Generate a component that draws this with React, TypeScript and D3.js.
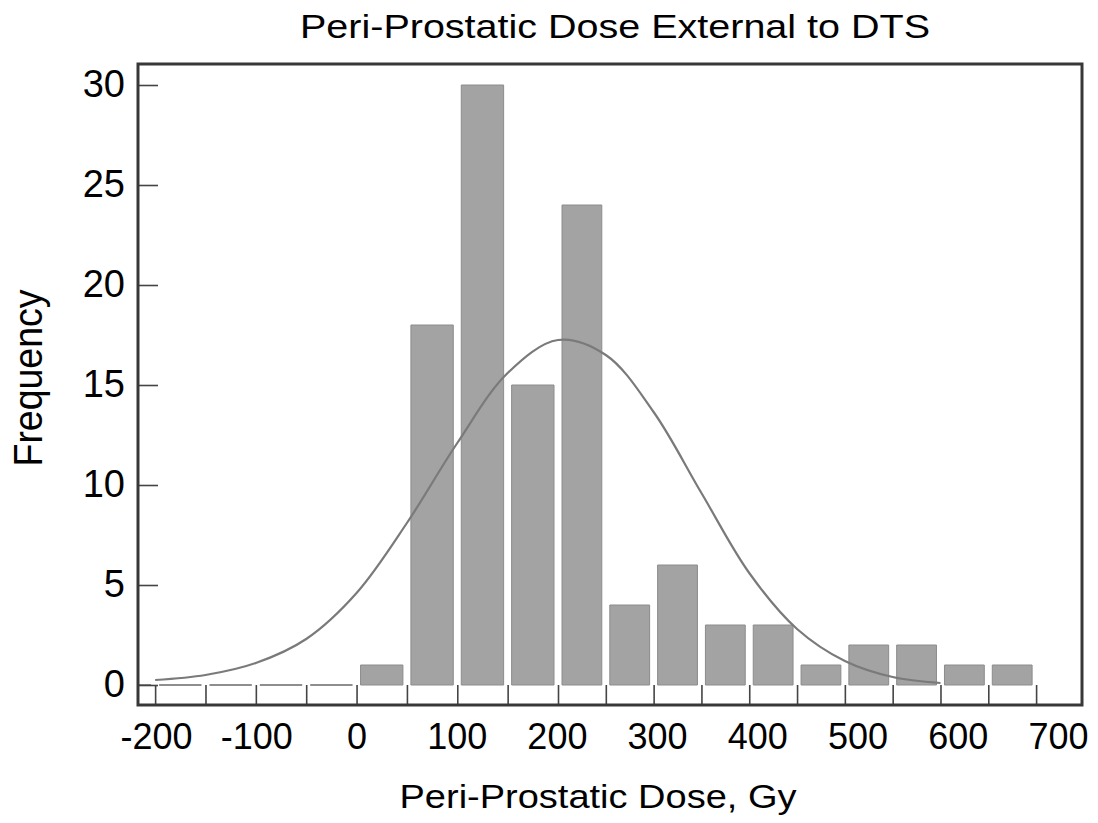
import React, { useRef, useEffect } from "react";
import { select, scaleLinear, axisLeft, axisBottom, line, curveCatmullRom } from "d3";

// histogram bins (left edge, width 50 Gy) and their frequencies
const binStarts = [-250, -200, -150, -100, -50, 0, 50, 100, 150, 200, 250, 300, 350, 400, 450, 500, 550, 600, 650];
const frequencies = [0, 0, 0, 0, 0, 1, 18, 30, 15, 24, 4, 6, 3, 3, 1, 2, 2, 1, 1];
const binWidth = 50;

// fitted normal curve
const curveX = [-200, -150, -100, -50, 0, 50, 100, 150, 200, 250, 300, 350, 400, 450, 500, 550, 600];
const curveY = [0.25, 0.5, 1.1, 2.3, 4.6, 8.1, 12.1, 15.6, 17.25, 16.5, 13.65, 9.6, 5.6, 2.8, 1.2, 0.4, 0.1];

const yTicks = [0, 5, 10, 15, 20, 25, 30];
const xTicks = [-200, -150, -100, -50, 0, 50, 100, 150, 200, 250, 300, 350, 400, 450, 500, 550, 600, 650, 700];
const xLabels = [-200, -100, 0, 100, 200, 300, 400, 500, 600, 700];

const FONT = "'Liberation Sans', Arial, Helvetica, sans-serif";

function App() {
  const svgRef = useRef<SVGSVGElement>(null);

  useEffect(() => {
    const svg = select(svgRef.current);
    const left = 138, right = 1082, top = 64, bottom = 705;

    // the printed plot is a little squeezed on the right side
    const xScale = scaleLinear().domain([-217, 200, 748]).range([left, 558, right]);
    // the tick labels sit on an even spacing
    const labelScale = scaleLinear().domain([-200, 700]).range([156, 1058]);
    const yScale = scaleLinear().domain([-1, 31.05]).range([bottom, top]);

    svg.select(".clip rect")
      .attr("x", left).attr("y", top)
      .attr("width", right - left).attr("height", bottom - top);

    // bars, zero ones still show as a flat outline
    const bars = binStarts.map((s, i) => ({ s, v: frequencies[i] }));
    svg.select(".bars")
      .selectAll("path")
      .data(bars)
      .join("path")
      .attr("d", (d) => {
        const x0 = xScale(d.s) + 4;
        const x1 = xScale(d.s + binWidth) - 4;
        const y0 = yScale(0);
        const y1 = yScale(d.v);
        return `M${x0},${y0}V${y1}H${x1}V${y0}Z`;
      })
      .attr("fill", "#a3a3a3")
      .attr("stroke", (d) => (d.v === 0 ? "#6a6a6a" : "#8c8c8c"))
      .attr("stroke-width", (d) => (d.v === 0 ? 1.5 : 1));

    // normal curve
    const pts = curveX.map((x, i) => [x, curveY[i]] as [number, number]);
    const lineGen = line<[number, number]>()
      .x((d) => xScale(d[0]))
      .y((d) => yScale(d[1]))
      .curve(curveCatmullRom);
    svg.select(".curve")
      .attr("d", lineGen(pts))
      .attr("fill", "none")
      .attr("stroke", "#7a7a7a")
      .attr("stroke-width", 2.2);

    // y axis, ticks pointing inward
    const yAxis = axisLeft(yScale).tickValues(yTicks).tickSize(-20).tickPadding(13);
    svg.select(".y-axis")
      .attr("transform", `translate(${left},0)`)
      .call(yAxis as any);

    // x axis: a tick every 50, drawn inward
    const xAxis = axisBottom(xScale).tickValues(xTicks).tickSize(-20).tickFormat(() => "");
    svg.select(".x-axis")
      .attr("transform", `translate(0,${bottom})`)
      .call(xAxis as any);

    // x labels at the hundreds
    const xLabelAxis = axisBottom(labelScale)
      .tickValues(xLabels)
      .tickSize(0)
      .tickPadding(18)
      .tickFormat((d: any) => String(d));
    svg.select(".x-labels")
      .attr("transform", `translate(0,${bottom})`)
      .call(xLabelAxis as any);

    svg.selectAll(".y-axis, .x-axis, .x-labels").select(".domain").remove();
    svg.selectAll(".x-labels line").remove();
    svg.selectAll(".y-axis line, .x-axis line")
      .attr("stroke", "#444")
      .attr("stroke-width", 1.6);
    svg.selectAll(".y-axis text")
      .attr("font-size", 38)
      .attr("font-family", FONT)
      .attr("fill", "#000")
      .attr("dy", "0.30em");
    svg.selectAll(".x-labels text")
      .attr("font-size", 36)
      .attr("font-family", FONT)
      .attr("fill", "#000");

    svg.select(".frame")
      .attr("x", left).attr("y", top)
      .attr("width", right - left).attr("height", bottom - top)
      .attr("fill", "none")
      .attr("stroke", "#383838")
      .attr("stroke-width", 3);
  }, []);

  return (
    <svg
      ref={svgRef}
      width={1098}
      height={823}
      style={{ position: "absolute", left: 0, top: 0, background: "#fff" }}
    >
      <defs>
        <clipPath id="plot-clip" className="clip">
          <rect />
        </clipPath>
      </defs>
      <g className="bars" clipPath="url(#plot-clip)" />
      <g className="x-axis" />
      <g className="x-labels" />
      <g className="y-axis" />
      <path className="curve" clipPath="url(#plot-clip)" />
      <rect className="frame" />
      <text
        x={615}
        y={38}
        textAnchor="middle"
        fontFamily={FONT}
        fontSize={33}
        textLength={630}
        lengthAdjust="spacingAndGlyphs"
        fill="#000"
      >
        Peri-Prostatic Dose External to DTS
      </text>
      <text
        x={598}
        y={808}
        textAnchor="middle"
        fontFamily={FONT}
        fontSize={33}
        textLength={397}
        lengthAdjust="spacingAndGlyphs"
        fill="#000"
      >
        Peri-Prostatic Dose, Gy
      </text>
      <text
        transform="translate(42,378) rotate(-90)"
        textAnchor="middle"
        fontFamily={FONT}
        fontSize={41}
        textLength={177}
        lengthAdjust="spacingAndGlyphs"
        fill="#000"
      >
        Frequency
      </text>
    </svg>
  );
}

export default App;
